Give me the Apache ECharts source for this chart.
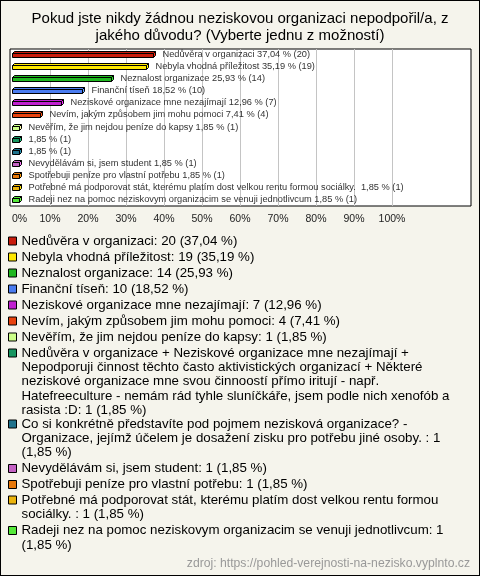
<!DOCTYPE html>
<html><head><meta charset="utf-8">
<script src="https://cdn.jsdelivr.net/npm/echarts@6/dist/echarts.min.js"></script>
<style>
html,body{margin:0;padding:0;background:#f5f4ec}
#wrap{position:relative;width:480px;height:576px}
#c{width:480px;height:576px}
#b{position:absolute;left:0;top:0;width:480px;height:576px;box-sizing:border-box;border:1px solid #000;pointer-events:none}
</style>
</head><body><div id="wrap"><div id="c"></div><div id="b"></div></div>
<script>
const categories = [
  'Nedůvěra v organizaci',
  'Nebyla vhodná příležitost',
  'Neznalost organizace',
  'Finanční tíseň',
  'Neziskové organizace mne nezajímají',
  'Nevím, jakým způsobem jim mohu pomoci',
  'Nevěřím, že jim nejdou peníze do kapsy',
  'Nedůvěra v organizace + Neziskové organizace mne nezajímají + Nepodporuji činnost těchto často aktivistických organizací + Některé neziskové organizace mne svou činnoostí přímo iritují - např. Hatefreeculture - nemám rád tyhle sluníčkáře, jsem podle nich xenofób a rasista :D',
  'Co si konkrétně představíte pod pojmem nezisková organizace? - Organizace, jejímž účelem je dosažení zisku pro potřebu jiné osoby. ',
  'Nevydělávám si, jsem student',
  'Spotřebuji peníze pro vlastní potřebu',
  'Potřebné má podporovat stát, kterému platím dost velkou rentu formou sociálky. ',
  'Radeji nez na pomoc neziskovym organizacim se venuji jednotlivcum'
];
const counts = [20, 19, 14, 10, 7, 4, 1, 1, 1, 1, 1, 1, 1];
const percents = [37.04, 35.19, 25.93, 18.52, 12.96, 7.41, 1.85, 1.85, 1.85, 1.85, 1.85, 1.85, 1.85];
const barNames = [
  'Nedůvěra v organizaci',
  'Nebyla vhodná příležitost',
  'Neznalost organizace',
  'Finanční tíseň',
  'Neziskové organizace mne nezajímají',
  'Nevím, jakým způsobem jim mohu pomoci',
  'Nevěřím, že jim nejdou peníze do kapsy',
  '',
  '',
  'Nevydělávám si, jsem student',
  'Spotřebuji peníze pro vlastní potřebu',
  'Potřebné má podporovat stát, kterému platím dost velkou rentu formou sociálky. ',
  'Radeji nez na pomoc neziskovym organizacim se venuji jednotlivcum'
];
const legendLines = [
  ['Nedůvěra v organizaci: 20 (37,04 %)'],
  ['Nebyla vhodná příležitost: 19 (35,19 %)'],
  ['Neznalost organizace: 14 (25,93 %)'],
  ['Finanční tíseň: 10 (18,52 %)'],
  ['Neziskové organizace mne nezajímají: 7 (12,96 %)'],
  ['Nevím, jakým způsobem jim mohu pomoci: 4 (7,41 %)'],
  ['Nevěřím, že jim nejdou peníze do kapsy: 1 (1,85 %)'],
  ['Nedůvěra v organizace + Neziskové organizace mne nezajímají +',
   'Nepodporuji činnost těchto často aktivistických organizací + Některé',
   'neziskové organizace mne svou činnoostí přímo iritují - např.',
   'Hatefreeculture - nemám rád tyhle sluníčkáře, jsem podle nich xenofób a',
   'rasista :D: 1 (1,85 %)'],
  ['Co si konkrétně představíte pod pojmem nezisková organizace? -',
   'Organizace, jejímž účelem je dosažení zisku pro potřebu jiné osoby. : 1',
   '(1,85 %)'],
  ['Nevydělávám si, jsem student: 1 (1,85 %)'],
  ['Spotřebuji peníze pro vlastní potřebu: 1 (1,85 %)'],
  ['Potřebné má podporovat stát, kterému platím dost velkou rentu formou',
   'sociálky. : 1 (1,85 %)'],
  ['Radeji nez na pomoc neziskovym organizacim se venuji jednotlivcum: 1',
   '(1,85 %)']
];
const colors = ['#c81c0c', '#ffe800', '#20b820', '#4a7cf0', '#c020d0', '#e8420e', '#ccff88',
  '#179560', '#1f728c', '#c462c4', '#e8780a', '#ebb40d', '#55e83a'];
const xTicks = [0, 10, 20, 30, 40, 50, 60, 70, 80, 90, 100];
const titleText = 'Pokud jste nikdy žádnou neziskovou organizaci nepodpořil/a, z\njakého důvodu? (Vyberte jednu z možností)';
const sourceText = 'zdroj: https://pohled-verejnosti-na-nezisko.vyplnto.cz';

const FONT = '"Liberation Sans", Arial, sans-serif';
const fmt = v => v.toFixed(2).replace('.', ',');

function renderBar(params, api) {
  const v = api.value(0), ci = api.value(1);
  const s = api.coord([0, ci]);
  const e = api.coord([v, ci]);
  const x0 = Math.round(s[0]) + 0.5, x1 = Math.round(e[0]) + 0.5;
  const yc = Math.round(e[1]);
  const d = 2;
  const yt = yc - 1.5, yb = yc + 2.5;
  const color = api.visual('color');
  const dark = echarts.color.lift(color, -0.3);
  const i = params.seriesIndex;
  const label = (barNames[i] ? barNames[i] + ' ' : '') + fmt(percents[i]) + ' % (' + counts[i] + ')';
  return {
    type: 'group',
    children: [
      {type: 'polygon', shape: {points: [[x0, yt], [x0 + d, yt - d], [x1 + d, yt - d], [x1, yt]]},
        style: {fill: color, stroke: '#000', lineWidth: 1}},
      {type: 'polygon', shape: {points: [[x1, yt], [x1 + d, yt - d], [x1 + d, yb - d], [x1, yb]]},
        style: {fill: dark, stroke: '#000', lineWidth: 1}},
      {type: 'rect', shape: {x: x0, y: yt, width: x1 - x0, height: yb - yt},
        style: {fill: color, stroke: '#000', lineWidth: 1}},
      {type: 'text', x: x1 + 9, y: yc - 1,
        style: {text: label, fill: '#333', font: '9.25px ' + FONT, verticalAlign: 'middle', align: 'left'}}
    ]
  };
}

const L = 14.4;
const firstCenters = [241, 257, 273, 289, 305, 321, 337, 353, 424, 468.5, 484.5, 500, 530.5];

const series = categories.map((c, i) => ({
  name: c,
  type: 'custom',
  xAxisIndex: 1, yAxisIndex: 1,
  itemStyle: {color: colors[i]},
  encode: {x: 0, y: 1},
  data: [[percents[i], i]],
  renderItem: renderBar,
  silent: true
}));

const legends = categories.map((c, i) => {
  const n = legendLines[i].length;
  return {
    data: [c],
    orient: 'vertical',
    left: 8,
    top: firstCenters[i] - (2 * n - 1) * L / 2,
    padding: 0,
    itemWidth: 8, itemHeight: 8, itemGap: 0,
    icon: 'rect',
    selectedMode: false,
    itemStyle: {borderColor: '#000', borderWidth: 1},
    textStyle: {fontSize: 13.3, color: '#000', fontFamily: FONT, lineHeight: L},
    formatter: () => '\n'.repeat(n - 1) + legendLines[i].join('\n')
  };
});

const chart = echarts.init(document.getElementById('c'), null, {renderer: 'canvas'});
chart.setOption({
  backgroundColor: '#f5f4ec',
  animation: false,
  title: [
    {text: titleText, left: 'center', top: 11, padding: 0,
      textStyle: {fontSize: 15, fontWeight: 'normal', color: '#000', fontFamily: FONT, lineHeight: 16.5}},
    {text: sourceText, right: 10, top: 557, padding: 0,
      textStyle: {fontSize: 12.2, fontWeight: 'normal', color: '#999', fontFamily: FONT, lineHeight: 14}}
  ],
  legend: legends,
  grid: [
    {left: 10, top: 49, width: 461, height: 157, show: true, backgroundColor: '#fff', borderColor: '#000', borderWidth: 1, containLabel: false},
    {left: 12, top: 49, width: 380, height: 157, containLabel: false}
  ],
  xAxis: [
    {gridIndex: 0, type: 'value', show: false, splitLine: {show: false}},
    {gridIndex: 1, type: 'value', min: xTicks[0], max: xTicks[xTicks.length - 1], interval: 10,
      axisLine: {show: false}, axisTick: {show: false},
      splitLine: {show: true, showMinLine: false, lineStyle: {color: '#c4c4c4', width: 1}},
      axisLabel: {formatter: '{value}%', fontSize: 10.5, color: '#222', fontFamily: FONT, margin: 8,
        alignMinLabel: 'left'}}
  ],
  yAxis: [
    {gridIndex: 0, type: 'value', show: false, splitLine: {show: false}},
    {gridIndex: 1, type: 'category', inverse: true, data: categories, show: false}
  ],
  series: series
});
</script></body></html>
